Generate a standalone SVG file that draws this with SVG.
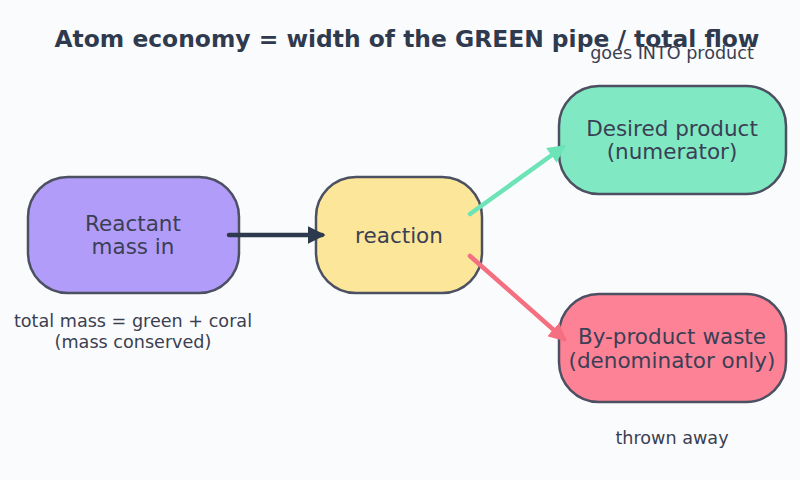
<svg xmlns="http://www.w3.org/2000/svg" width="800" height="480" viewBox="0 0 800 480">
<defs>
<style>
.node{stroke:#4b5062;stroke-width:2.5}
.nt{font-family:"DejaVu Sans",sans-serif;font-size:21.5px;fill:#3b3f55;text-anchor:middle;dominant-baseline:central}
.lbl{font-family:"DejaVu Sans",sans-serif;font-size:17.6px;fill:#3a4050;text-anchor:middle;dominant-baseline:central}
.title{font-family:"DejaVu Sans",sans-serif;font-size:23.4px;font-weight:bold;fill:#2f3a4e;text-anchor:middle;dominant-baseline:central}
.edge{fill:none;stroke-width:4.5;stroke-linecap:round}
</style>
<marker id="ad" viewBox="0 0 10 10" refX="8" refY="5" markerWidth="4" markerHeight="4" orient="auto" markerUnits="strokeWidth"><path d="M0,0 L10,5 L0,10 z" fill="#2d3a4e"/></marker>
<marker id="ag" viewBox="0 0 10 10" refX="8" refY="5" markerWidth="4" markerHeight="4" orient="auto" markerUnits="strokeWidth"><path d="M0,0 L10,5 L0,10 z" fill="#6de3b8"/></marker>
<marker id="ac" viewBox="0 0 10 10" refX="8" refY="5" markerWidth="4" markerHeight="4" orient="auto" markerUnits="strokeWidth"><path d="M0,0 L10,5 L0,10 z" fill="#f46f80"/></marker>
</defs>
<rect width="800" height="480" fill="#fafbfd"/>
<text class="title" x="407" y="39">Atom economy = width of the GREEN pipe / total flow</text>
<g id="reactant"><rect class="node" x="28" y="177" width="211" height="116" rx="40" fill="#b29cf9"/><text class="nt" x="133" y="223">Reactant</text><text class="nt" x="133" y="246">mass in</text></g>
<g id="reaction"><rect class="node" x="316" y="177" width="166" height="116" rx="40" fill="#fce699"/><text class="nt" x="399" y="235">reaction</text></g>
<g id="product"><rect class="node" x="559" y="86" width="227" height="108" rx="40" fill="#80e9c3"/><text class="nt" x="672" y="128">Desired product</text><text class="nt" x="672" y="151">(numerator)</text></g>
<g id="waste"><rect class="node" x="559" y="294" width="227" height="108" rx="40" fill="#fd8296"/><text class="nt" x="672" y="336">By-product waste</text><text class="nt" x="672" y="360">(denominator only)</text></g>
<g id="connectors">
<line class="edge" x1="229" y1="235" x2="322" y2="235" stroke="#2d3a4e" marker-end="url(#ad)"/>
<line class="edge" x1="470" y1="214" x2="563" y2="147" stroke="#6de3b8" marker-end="url(#ag)"/>
<line class="edge" x1="470" y1="256" x2="564" y2="339" stroke="#f46f80" marker-end="url(#ac)"/>
</g>
<text class="lbl" x="672" y="53">goes INTO product</text>
<text class="lbl" x="672" y="438">thrown away</text>
<text class="lbl" x="133" y="321">total mass = green + coral</text>
<text class="lbl" x="133" y="342">(mass conserved)</text>
</svg>
